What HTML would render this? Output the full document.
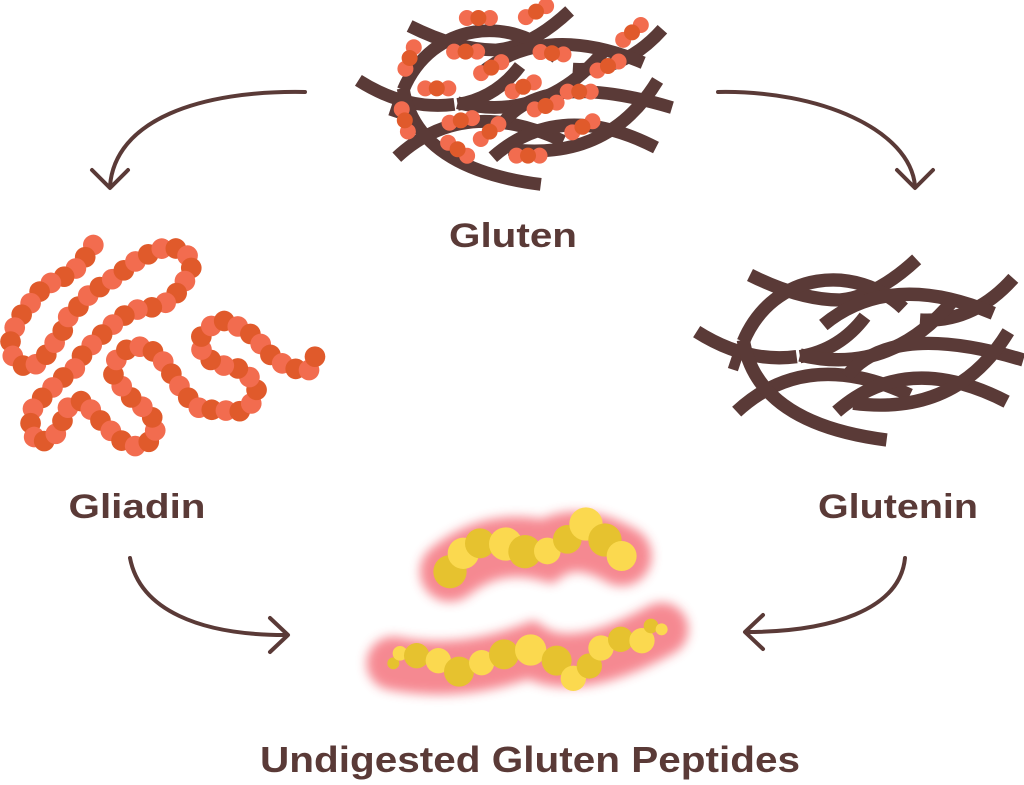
<!DOCTYPE html>
<html><head><meta charset="utf-8"><style>
html,body{margin:0;padding:0;background:#fff;}
svg{display:block}
text{font-family:"Liberation Sans",sans-serif;font-weight:bold;fill:#5a3a37}
</style></head><body>
<svg id="s" width="1024" height="785" viewBox="0 0 1024 785" xmlns="http://www.w3.org/2000/svg">
<defs>
<g id="fib" fill="none" stroke="#5a3a37" stroke-width="40" stroke-linecap="butt">
<path d="M180,75 Q330,150 450,150 Q560,140 680,28"/>
<path d="M160,275 C250,60 500,40 640,175"/>
<path d="M690,210 Q850,220 970,85"/>
<path d="M400,225 Q600,60 910,190"/>
<path d="M20,245 Q170,340 320,320"/>
<path d="M330,320 Q450,300 525,200"/>
<path d="M330,315 Q600,380 790,150"/>
<path d="M120,335 L150,345"/>
<path d="M140,485 Q350,290 660,435"/>
<path d="M470,380 Q600,210 1000,330"/>
<path d="M440,485 Q650,300 950,455"/>
<path d="M490,460 Q800,500 955,245"/>
<path d="M160,270 Q200,520 590,570"/>
</g>
<filter id="glow" x="-40%" y="-120%" width="180%" height="340%"><feGaussianBlur stdDeviation="16"/></filter>
</defs>

<g transform="translate(352,2) scale(0.32)">
<use href="#fib"/>
<g id="dots"></g>
</g>
<text x="513" y="247" font-size="34" text-anchor="middle" textLength="128" lengthAdjust="spacingAndGlyphs">Gluten</text>

<g transform="translate(690,250) scale(0.3333)"><use href="#fib"/></g>
<text x="898" y="518" font-size="34" text-anchor="middle" textLength="160" lengthAdjust="spacingAndGlyphs">Glutenin</text>

<g id="gli" transform="translate(0,220) scale(0.3333)"></g>
<text x="137" y="518" font-size="34" text-anchor="middle" textLength="137" lengthAdjust="spacingAndGlyphs">Gliadin</text>

<g fill="none" stroke="#5a3a37" stroke-width="4" stroke-linecap="round" stroke-linejoin="round">
<path d="M305,92 C200,90 115,120 110,186"/><path d="M92,170 L110,188 L128,170"/>
<path d="M718,92 C820,90 910,130 915,186"/><path d="M897,170 L915,188 L933,170"/>
<path d="M130,558 C140,610 200,635 285,635"/><path d="M270,618 L288,635 L270,652"/>
<path d="M905,558 C900,610 830,632 746,632"/><path d="M763,615 L745,632 L763,649"/>
</g>

<g transform="translate(360,490) scale(0.3333)">
<g filter="url(#glow)" opacity="0.6">
<path d="M270,245 Q400,140 560,183 Q650,120 785,198" stroke="#f03a48" stroke-width="180" fill="none" stroke-linecap="round"/>
<path d="M100,520 Q300,560 512,480 Q640,565 905,418" stroke="#f03a48" stroke-width="160" fill="none" stroke-linecap="round"/>
</g>
<g id="pep"></g>
</g>

<text x="530" y="772" font-size="36" text-anchor="middle" textLength="540" lengthAdjust="spacingAndGlyphs">Undigested Gluten Peptides</text>
</svg>
<script>
var NS="http://www.w3.org/2000/svg";
function C(p,x,y,r,f){var c=document.createElementNS(NS,"circle");c.setAttribute("cx",x);c.setAttribute("cy",y);c.setAttribute("r",r);c.setAttribute("fill",f);p.appendChild(c);}
var pep=document.getElementById("pep"),D="#e6c22f",L="#fbd94f";
[[270,245,50,D],[310,190,47,L],[360,160,45,D],[437,162,50,L],[495,185,50,D],[562,183,40,L],[622,148,43,D],[678,102,50,L],[735,150,50,D],[785,198,45,L],
[100,520,18,D],[120,490,22,L],[170,497,38,D],[235,512,38,L],[297,545,45,D],[365,518,38,L],[432,493,45,D],[512,480,47,L],[590,512,45,D],[640,565,38,L],[688,528,38,D],[723,474,38,L],[782,448,38,D],[846,452,38,L],[873,408,22,D],[905,418,18,L]].forEach(function(a){C(pep,a[0],a[1],a[2],a[3]);});
var dots=document.getElementById("dots"),OD="#e05a2b",OL="#f26c4f";
[[395,50,0],[575,30,-0.5],[875,95,-0.7],[180,175,-1.2],[355,155,0],[435,205,-0.5],[625,160,0.1],[800,200,-0.4],[265,270,0],[535,265,-0.4],[710,280,0],[605,325,-0.3],[165,370,1.3],[340,370,-0.2],[430,405,-0.7],[720,390,-0.5],[330,460,0.6],[550,480,0]].forEach(function(a){
var dx=Math.cos(a[2])*36,dy=Math.sin(a[2])*36;C(dots,a[0]-dx,a[1]-dy,25,OL);C(dots,a[0]+dx,a[1]+dy,25,OL);C(dots,a[0],a[1],25,OD);});
var gli=document.getElementById("gli");
function chain(pts){var p=document.createElementNS(NS,"path");var d="M"+pts[0];for(var i=1;i<pts.length;i++)d+=" L"+pts[i];p.setAttribute("d",d);p.setAttribute("fill","none");gli.appendChild(p);
var len=p.getTotalLength();gli.removeChild(p);var n=Math.round(len/44);for(var i=0;i<=n;i++){var q=p.getPointAtLength(len*i/n);C(gli,q.x,q.y,31,i%2?OD:OL);}}
chain([[280,75],[250,120],[215,160],[170,180],[130,200],[100,240],[70,275],[45,320],[30,370],[40,415],[80,445],[125,425],[155,380],[185,340],[205,290],[240,255],[275,215],[320,190],[360,160],[405,125],[450,100],[500,80],[550,90],[580,130],[560,175],[535,215],[495,250],[445,265],[400,270],[360,295],[320,330],[285,365],[250,400],[225,445],[180,480],[140,520],[100,560],[90,620],[110,670],[160,655],[185,610],[200,565],[250,540],[285,585],[320,620],[360,660],[410,680],[460,660],[470,610],[440,570],[400,540],[370,505],[340,465],[350,415],[390,380],[440,380],[480,410],[510,455],[540,500],[570,540],[610,575],[655,565],[705,580],[750,560],[770,510],[745,465],[705,440],[655,435],[610,405],[595,360],[630,320],[665,300],[715,320],[765,350],[800,395],[835,425],[880,445],[925,455],[945,410]]);
</script>
</body></html>
